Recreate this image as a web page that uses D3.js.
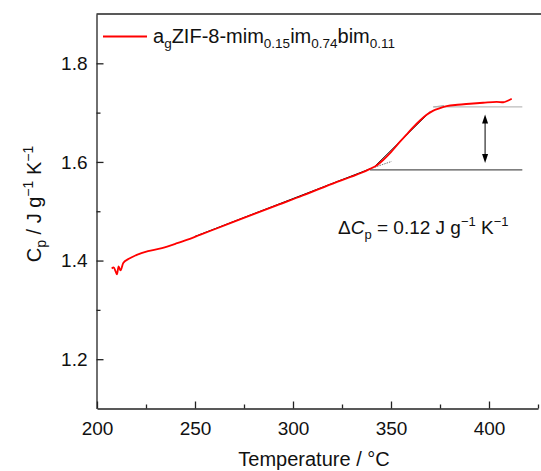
<!DOCTYPE html>
<html>
<head>
<meta charset="UTF-8">
<script src="https://d3js.org/d3.v7.min.js"></script>
<style>
  body { margin: 0; background: #fff; }
  svg { display: block; font-family: "Liberation Sans", Arial, sans-serif; }
</style>
</head>
<body>
<svg id="chart" width="541" height="471"></svg>
<script>
// measured curve
var temps = [207.5, 208.5, 209.5, 210.2, 211, 212, 213.4, 216, 220, 226, 232, 240, 247.4, 252.5,
             261, 274.6, 291.7, 305, 317, 329, 335, 339.3, 343, 346, 350, 354.6, 358, 361, 364.8, 368,
             371.6, 375, 378.4, 384, 390.3, 397, 403.9, 407.3, 409.5, 411.6];
var cps = [1.384, 1.386, 1.378, 1.372, 1.388, 1.380, 1.395, 1.403, 1.411, 1.419, 1.424, 1.434, 1.444, 1.452,
           1.465, 1.486, 1.512, 1.532, 1.551, 1.569, 1.578, 1.586, 1.594, 1.604, 1.620, 1.641, 1.656, 1.669, 1.684, 1.695,
           1.704, 1.709, 1.713, 1.716, 1.718, 1.720, 1.722, 1.721, 1.724, 1.728];

// annotation values
var baseFit = [[250, 1.449], [339.3, 1.586]];     // black baseline tangent
var baseExt = [[339.3, 1.586], [350.3, 1.601]];   // dotted extension
var riseFit = [[342, 1.592], [370, 1.702]];       // tangent on the step
var topFit = [[371.6, 1.7116], [377, 1.714]];
var lowLevel = 1.584, highLevel = 1.7116, levelStart = [339.3, 371.6], levelEnd = 417;
var arrowT = 398, arrowCp = [1.696, 1.598];

var xTicks = [200, 250, 300, 350, 400];
var yTicks = [1.2, 1.4, 1.6, 1.8];

var svg = d3.select("#chart");
var x = d3.scaleLinear().domain([200, 425]).range([97, 538]);
var y = d3.scaleLinear().domain([1.1, 1.9]).range([408.5, 14]);
var line = d3.line().x(function(d){ return x(d[0]); }).y(function(d){ return y(d[1]); });
var curve = d3.line().curve(d3.curveMonotoneX).x(function(d){ return x(d[0]); }).y(function(d){ return y(d[1]); });

// frame top + right (right is off the picture)
svg.append("line").attr("x1", 96.5).attr("x2", 560).attr("y1", 14).attr("y2", 14)
  .attr("stroke", "#222").attr("stroke-width", 1.3);

// bottom axis
svg.append("g").attr("transform", "translate(0,408.5)")
  .call(d3.axisBottom(x).tickValues(xTicks).tickSize(-7).tickPadding(13).tickSizeOuter(0));
svg.append("g").attr("transform", "translate(0,408.5)")
  .call(d3.axisBottom(x).tickValues([225, 275, 325, 375, 425]).tickSize(-4).tickFormat("").tickSizeOuter(0))
  .select(".domain").remove();

// left axis
svg.append("g").attr("transform", "translate(96.5,0)")
  .call(d3.axisLeft(y).tickValues(yTicks).tickSize(-7).tickPadding(9).tickSizeOuter(0).tickFormat(d3.format(".1f")));
svg.append("g").attr("transform", "translate(96.5,0)")
  .call(d3.axisLeft(y).tickValues([1.3, 1.5, 1.7]).tickSize(-4).tickFormat("").tickSizeOuter(0))
  .select(".domain").remove();

svg.selectAll(".domain").attr("stroke", "#222").attr("stroke-width", 1.3);
svg.selectAll(".tick line").attr("stroke", "#222").attr("stroke-width", 1.3);
svg.selectAll(".tick text").attr("font-size", 19).attr("fill", "#111")
  .attr("font-family", "Liberation Sans, Arial, sans-serif");

// axis titles
svg.append("text").attr("x", 314).attr("y", 466).attr("text-anchor", "middle")
  .attr("font-size", 20).attr("fill", "#111").text("Temperature / \u00B0C");

var yt = svg.append("text").attr("transform", "translate(41,204) rotate(-90)")
  .attr("text-anchor", "middle").attr("font-size", 20).attr("fill", "#111");
yt.append("tspan").text("C");
yt.append("tspan").attr("font-size", 14).attr("dy", 5).text("p");
yt.append("tspan").attr("dy", -5).text(" / J g");
yt.append("tspan").attr("font-size", 14).attr("dy", -8).text("\u22121");
yt.append("tspan").attr("dy", 8).text(" K");
yt.append("tspan").attr("font-size", 14).attr("dy", -8).text("\u22121");

// construction lines
svg.append("path").datum(baseFit).attr("d", line).attr("fill", "none")
  .attr("stroke", "#000").attr("stroke-width", 1);
svg.append("path").datum(riseFit).attr("d", line).attr("fill", "none")
  .attr("stroke", "#000").attr("stroke-width", 1);
svg.append("path").datum(baseExt).attr("d", line).attr("fill", "none")
  .attr("stroke", "#777").attr("stroke-width", 1).attr("stroke-dasharray", "1.5,1");
svg.append("path").datum(topFit).attr("d", line).attr("fill", "none")
  .attr("stroke", "#888").attr("stroke-width", 1);
svg.append("line").attr("x1", x(levelStart[0])).attr("x2", x(levelEnd))
  .attr("y1", y(lowLevel)).attr("y2", y(lowLevel)).attr("stroke", "#555").attr("stroke-width", 1.2);
svg.append("line").attr("x1", x(levelStart[1])).attr("x2", x(levelEnd))
  .attr("y1", y(highLevel)).attr("y2", y(highLevel)).attr("stroke", "#bbb").attr("stroke-width", 1.2);

// double arrow
var ax = x(arrowT), ay1 = y(arrowCp[0]), ay2 = y(arrowCp[1]);
svg.append("line").attr("x1", ax).attr("x2", ax).attr("y1", ay1 + 6).attr("y2", ay2 - 6)
  .attr("stroke", "#000").attr("stroke-width", 1);
svg.append("path").attr("d", "M" + ax + "," + ay1 + "l-3,9h6z").attr("fill", "#000");
svg.append("path").attr("d", "M" + ax + "," + ay2 + "l-3,-9h6z").attr("fill", "#000");

// data curve
svg.append("path").datum(d3.zip(temps, cps)).attr("d", curve).attr("fill", "none")
  .attr("stroke", "#ff0000").attr("stroke-width", 1.8).attr("stroke-linejoin", "round");

// delta Cp label
var dl = svg.append("text").attr("x", 338).attr("y", 234).attr("font-size", 19).attr("fill", "#111");
dl.append("tspan").text("\u0394");
dl.append("tspan").attr("font-style", "italic").text("C");
dl.append("tspan").attr("font-size", 13).attr("dy", 5).text("p");
dl.append("tspan").attr("dy", -5).text(" = 0.12 J g");
dl.append("tspan").attr("font-size", 13).attr("dy", -8).text("\u22121");
dl.append("tspan").attr("dy", 8).text(" K");
dl.append("tspan").attr("font-size", 13).attr("dy", -8).text("\u22121");

// legend
svg.append("line").attr("x1", 103).attr("x2", 147).attr("y1", 36.5).attr("y2", 36.5)
  .attr("stroke", "#ff0000").attr("stroke-width", 1.8);
var lg = svg.append("text").attr("x", 153).attr("y", 43).attr("font-size", 20).attr("fill", "#111");
lg.append("tspan").text("a");
lg.append("tspan").attr("font-size", 13.5).attr("dy", 5).text("g");
lg.append("tspan").attr("dy", -5).text("ZIF-8-mim");
lg.append("tspan").attr("font-size", 13.5).attr("dy", 5).text("0.15");
lg.append("tspan").attr("dy", -5).text("im");
lg.append("tspan").attr("font-size", 13.5).attr("dy", 5).text("0.74");
lg.append("tspan").attr("dy", -5).text("bim");
lg.append("tspan").attr("font-size", 13.5).attr("dy", 5).text("0.11");
</script>
</body>
</html>
